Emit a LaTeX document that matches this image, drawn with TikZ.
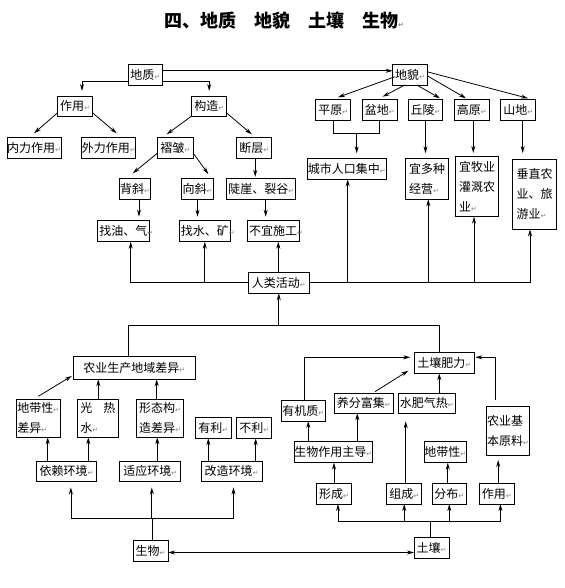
\documentclass[tikz,border=0pt]{standalone}
\usepackage{fontspec}
\usetikzlibrary{arrows.meta}
\newfontfamily\cjk{Noto Sans CJK SC}
\newfontfamily\symf{DejaVu Sans}
\newcommand\ret{{\symf\fontsize{7}{7}\selectfont\textcolor{gray}{↵}}}
\begin{document}
\begin{tikzpicture}[x=1pt,y=-1pt,
  box/.style={draw,line width=0.8pt,inner sep=0pt,outer sep=0pt,align=left,
    font=\cjk\fontsize{12}{20}\selectfont},
  ln/.style={line width=0.8pt},
  arr/.style={line width=0.8pt,-{Stealth[length=7pt,width=4pt]}},
  arrtwo/.style={line width=0.8pt,{Stealth[length=7pt,width=4pt]}-{Stealth[length=7pt,width=4pt]}}]
\useasboundingbox (0,0) rectangle (564,588);
\node[font=\cjk\bfseries\fontsize{18}{18}\selectfont] (title) at (281,21) {四、地质　地貌　土壤　生物\rlap{\ret}};
% upper part
\node[box,minimum width=34pt,minimum height=20.3pt] (dz) at (145.3,74.8) {地质\ret};
\node[box,minimum width=34.6pt,minimum height=20.3pt] (dm) at (410,74.8) {地貌\ret};
\node[box,minimum width=35.4pt,minimum height=20pt] (zy) at (75,106) {作用\ret};
\node[box,minimum width=35pt,minimum height=20pt] (gz) at (209.2,106) {构造\ret};
\node[box,minimum width=53.4pt,minimum height=21pt] (nl) at (34,147.8) {内力作用\ret};
\node[box,minimum width=52.7pt,minimum height=21pt] (wl) at (108.7,147.8) {外力作用\ret};
\node[box,minimum width=36pt,minimum height=21pt] (zz) at (175.3,147.8) {褶皱\ret};
\node[box,minimum width=35pt,minimum height=21pt] (dc) at (254.2,147.8) {断层\ret};
\node[box,minimum width=31.4pt,minimum height=21pt] (bx) at (135,188.8) {背斜\ret};
\node[box,minimum width=31.6pt,minimum height=21pt] (xx) at (197.5,188.8) {向斜\ret};
\node[box,minimum width=69pt,minimum height=21pt] (dy) at (261.2,188.8) {陡崖、裂谷\ret};
\node[box,minimum width=52pt,minimum height=21pt] (zyq) at (123.3,231.2) {找油、气\rlap{\ret}};
\node[box,minimum width=51.7pt,minimum height=21pt] (zsk) at (204.8,231.2) {找水、矿\rlap{\ret}};
\node[box,minimum width=51.7pt,minimum height=21pt] (byg) at (273.2,231.2) {不宜施工\rlap{\ret}};
\node[box,minimum width=35pt,minimum height=21.4pt] (pm) at (333.2,110) {平原\ret};
\node[box,minimum width=35pt,minimum height=21.4pt] (pd) at (379.8,110) {盆地\ret};
\node[box,minimum width=34.4pt,minimum height=21.4pt] (ql) at (425.5,110) {丘陵\ret};
\node[box,minimum width=35.3pt,minimum height=21.4pt] (gy) at (471.7,110) {高原\ret};
\node[box,minimum width=35pt,minimum height=21.4pt] (sd) at (518.2,110) {山地\ret};
\node[box,minimum width=78.7pt,minimum height=21pt] (cs) at (346.7,168.8) {城市人口集中\ret};
\node[box,minimum width=42.6pt,minimum height=41pt] (ydz) at (427,178.8) {宜多种\\经营\ret};
\node[box,minimum width=42.6pt,minimum height=60.7pt] (ymy) at (477,186.3) {宜牧业\\灌溉农\\业\ret};
\node[box,minimum width=44.4pt,minimum height=70.3pt] (czn) at (534.5,194.2) {垂直农\\业、旅\\游业\ret};
\node[box,minimum width=61pt,minimum height=21pt] (rl) at (278.8,282.8) {人类活动\ret};
% lower part
\node[box,minimum width=121.7pt,minimum height=22.6pt] (ny) at (134.2,368) {农业生产地域差异\ret};
\node[box,minimum width=43.3pt,minimum height=38pt] (ddx) at (38.3,418.3) {地带性\ret\\差异\ret};
\node[box,minimum width=41pt,minimum height=38pt] (grs) at (97.8,418.3) {光\hspace{11pt}热\\水\ret};
\node[box,minimum width=46.6pt,minimum height=38pt] (xtg) at (160,418.3) {形态构\ret\\造差异\ret};
\node[box,minimum width=36.7pt,minimum height=21pt] (yl) at (213.3,427.8) {有利\ret};
\node[box,minimum width=35pt,minimum height=21pt] (bl) at (254.2,427.8) {不利\ret};
\node[box,minimum width=60pt,minimum height=20.5pt] (ylhj) at (66.5,471.2) {依赖环境\ret};
\node[box,minimum width=61pt,minimum height=20.5pt] (syhj) at (150.2,471.2) {适应环境\ret};
\node[box,minimum width=61pt,minimum height=20.5pt] (gzhj) at (231.5,471.2) {改造环境\ret};
\node[box,minimum width=35pt,minimum height=21pt] (sw) at (150.5,550.5) {生物\ret};
\node[box,minimum width=35pt,minimum height=21.4pt] (tr) at (431.5,548) {土壤\ret};
\node[box,minimum width=60pt,minimum height=20.6pt] (trfl) at (444.3,363) {土壤肥力\ret};
\node[box,minimum width=43.3pt,minimum height=21pt] (yjz) at (303.3,410.5) {有机质\ret};
\node[box,minimum width=59.3pt,minimum height=20pt] (yffj) at (363.7,403.3) {养分富集\ret};
\node[box,minimum width=56.7pt,minimum height=20pt] (sfqr) at (426.7,403.3) {水肥气热\ret};
\node[box,minimum width=42.6pt,minimum height=49pt] (nyjb) at (508,430.5) {农业基\\本原料\ret};
\node[box,minimum width=78pt,minimum height=21pt] (swzy) at (333.3,452.2) {生物作用主导\ret};
\node[box,minimum width=42.7pt,minimum height=21pt] (ddxb) at (445.3,452.2) {地带性\ret};
\node[box,minimum width=35pt,minimum height=20.7pt] (xc) at (334,493.7) {形成\ret};
\node[box,minimum width=35.3pt,minimum height=20.7pt] (zc) at (404.2,493.7) {组成\ret};
\node[box,minimum width=33.5pt,minimum height=20.7pt] (fb) at (449.3,493.7) {分布\ret};
\node[box,minimum width=35.3pt,minimum height=20.7pt] (zyb) at (496.7,493.7) {作用\ret};
% coordinates for junctions
\coordinate (hL) at (128.3,325);
\coordinate (hR) at (439.3,325);
\coordinate (bk) at (356.7,133.3);
\coordinate (bj) at (152,518.3);
\coordinate (tj) at (430.2,521.7);
% connectors upper
\draw[arr] ([yshift=4pt]dz.east) -- ([yshift=4pt]dm.west);
\draw[arr,shorten >=5pt] ([yshift=-7pt]dz.east) -| (gz.north);
\draw[arr,shorten >=5pt] ([yshift=-7pt]dz.west) -| ([xshift=7pt]zy.north);
\draw[arr] ([yshift=3pt]zy.south west) -- ([yshift=4pt]nl.north);
\draw[arr] ([yshift=3pt]zy.south east) -- ([xshift=8pt,yshift=4pt]wl.north);
\draw[arr] (gz.south west) -- ([xshift=-8.6pt,yshift=3pt]zz.north);
\draw[arr] ([yshift=3pt]gz.south east) -- ([xshift=-2.5pt,yshift=3pt]dc.north);
\draw[arr] ([yshift=5pt]zz.south west) -- ([xshift=-2.3pt,yshift=5pt]bx.north);
\draw[arr] ([yshift=5pt]zz.south east) -- ([xshift=10.8pt,yshift=4.3pt]xx.north);
\draw[arr,shorten >=1.5pt] ([xshift=1pt]dc.south) -- ([xshift=1pt]dc.south |- dy.north);
\draw[arr,shorten >=4pt] ([xshift=4pt]bx.south) -- ([xshift=4pt]bx.south |- zyq.north);
\draw[arr,shorten >=4pt] (xx.south) -- (xx.south |- zsk.north);
\draw[arr,shorten >=4pt] ([xshift=4.5pt]dy.south) -- ([xshift=4.5pt]dy.south |- byg.north);
\draw[arr] ([xshift=2pt,yshift=-2pt]dm.west) -- ([xshift=4.8pt,yshift=2pt]pm.north);
\draw[arr] ([xshift=-5pt]dm.south) -- ([xshift=2.7pt,yshift=2.6pt]pd.north);
\draw[arr] ([xshift=6.7pt]dm.south) -- ([xshift=-2.7pt,yshift=1pt]ql.north east);
\draw[arr] ([yshift=-1pt]dm.east) -- ([xshift=-5.7pt,yshift=1pt]gy.north);
\draw[arr] ([yshift=3pt]dm.east) -- ([xshift=9.8pt,yshift=1pt]sd.north);
\draw[ln] (pm.south) |- (bk) -| (pd.south);
\draw[arr,shorten >=5pt] (bk) -- (bk |- cs.north);
\draw[arr,shorten >=5pt] (ql.south) -- (ql.south |- ydz.north);
\draw[arr,shorten >=3pt] ([xshift=1.6pt]gy.south) -- ([xshift=1.6pt]gy.south |- ymy.north);
\draw[arr,shorten >=6pt] ([xshift=4.5pt]sd.south) -- ([xshift=4.5pt]sd.south |- czn.north);
% human activity
\draw[arr] (rl.west) -| ([xshift=7.4pt]zyq.south);
\draw[arr] (zsk.south |- rl.west) -- (zsk.south);
\draw[arr] ([xshift=-0.5pt]rl.north) -- ([xshift=-0.5pt]rl.north |- byg.south);
\draw[ln] (rl.east) -- ([xshift=-4.5pt]czn.south |- rl.east);
\draw[arr] ([xshift=1pt]cs.south |- rl.east) -- ([xshift=1pt]cs.south);
\draw[arr] ([xshift=1.3pt]ydz.south |- rl.east) -- ([xshift=1.3pt]ydz.south);
\draw[arr] ([xshift=-3pt]ymy.south |- rl.east) -- ([xshift=-3pt]ymy.south);
\draw[arr] ([xshift=-4.5pt]czn.south |- rl.east) -- ([xshift=-4.5pt]czn.south);
\draw[ln] (hL |- ny.north) -- (hL) -- (hR) -- (hR |- trfl.north);
\draw[arr] (rl.south |- hL) -- (rl.south);
% agriculture side
\draw[arr] ([yshift=3pt]ddx.north) -- ([xshift=-1.6pt,yshift=3.3pt]ny.south west);
\draw[arr] ([xshift=0.5pt]grs.north) -- ([xshift=0.5pt]grs.north |- ny.south);
\draw[arr] ([xshift=-3.3pt]xtg.north) -- ([xshift=-3.3pt]xtg.north |- ny.south);
\draw[arr] ([xshift=9.4pt]ddx.south |- ylhj.north) -- ([xshift=9.4pt]ddx.south);
\draw[arr] ([xshift=-9.5pt]grs.south |- ylhj.north) -- ([xshift=-9.5pt]grs.south);
\draw[arr] ([xshift=-2.7pt]xtg.south |- syhj.north) -- ([xshift=-2.7pt]xtg.south);
\draw[arr] ([xshift=-5pt]yl.south |- gzhj.north) -- ([xshift=-5pt]yl.south);
\draw[arr] ([xshift=1.5pt]bl.south |- gzhj.north) -- ([xshift=1.5pt]bl.south);
\draw[ln] ([xshift=1.5pt]sw.north) -- ([xshift=1.5pt]sw.north |- bj);
\draw[arr,shorten >=6pt] ([xshift=1.5pt]sw.north |- bj) -| ([xshift=4.4pt]ylhj.south);
\draw[arr,shorten >=6pt] ([xshift=1.5pt]sw.north |- bj) -| ([xshift=2pt]gzhj.south);
\draw[arr,shorten >=6pt] ([xshift=1.6pt]syhj.south |- bj) -- ([xshift=1.6pt]syhj.south);
\draw[arrtwo] ([yshift=-2pt]sw.east) -- ([yshift=-2pt]sw.east -| tr.west);
% soil side
\draw[ln] ([xshift=-1.3pt]tr.north) -- ([xshift=-1.3pt]tr.north |- tj);
\draw[arr] ([xshift=-1.3pt]tr.north |- tj) -| ([xshift=4pt]xc.south);
\draw[arr] ([xshift=-1.3pt]tr.north |- tj) -| ([xshift=3.7pt]zyb.south);
\draw[arr] (zc.south |- tj) -- (zc.south);
\draw[arr] (fb.south |- tj) -- (fb.south);
\draw[arr] (xc.north) -- (xc.north |- swzy.south);
\draw[arr,shorten >=8pt] ([xshift=1.5pt]zc.north) -- ([xshift=1.5pt]zc.north |- sfqr.south);
\draw[arr] ([xshift=-1.5pt]fb.north) -- ([xshift=-1.5pt]fb.north |- ddxb.south);
\draw[arr,shorten >=5pt] ([xshift=1.5pt]zyb.north) -- ([xshift=1.5pt]zyb.north |- nyjb.south);
\draw[arr] ([xshift=5pt]yjz.south |- swzy.north) -- ([xshift=5pt]yjz.south);
\draw[arr] ([xshift=-6.4pt]yffj.south |- swzy.north) -- ([xshift=-6.4pt]yffj.south);
\draw[arr,shorten >=4pt] ([xshift=1pt]yjz.north) |- ([yshift=5.7pt]trfl.west);
\draw[arr] ([xshift=11.3pt,yshift=1.6pt]yffj.north) -- ([xshift=-6pt,yshift=2.6pt]trfl.south west);
\draw[arr] ([xshift=-5pt]trfl.south |- sfqr.north) -- ([xshift=-5pt]trfl.south);
\draw[arr,shorten >=1pt] ([xshift=-13pt,yshift=6pt]nyjb.north) |- ([yshift=5.7pt]trfl.east);
\end{tikzpicture}
\end{document}
